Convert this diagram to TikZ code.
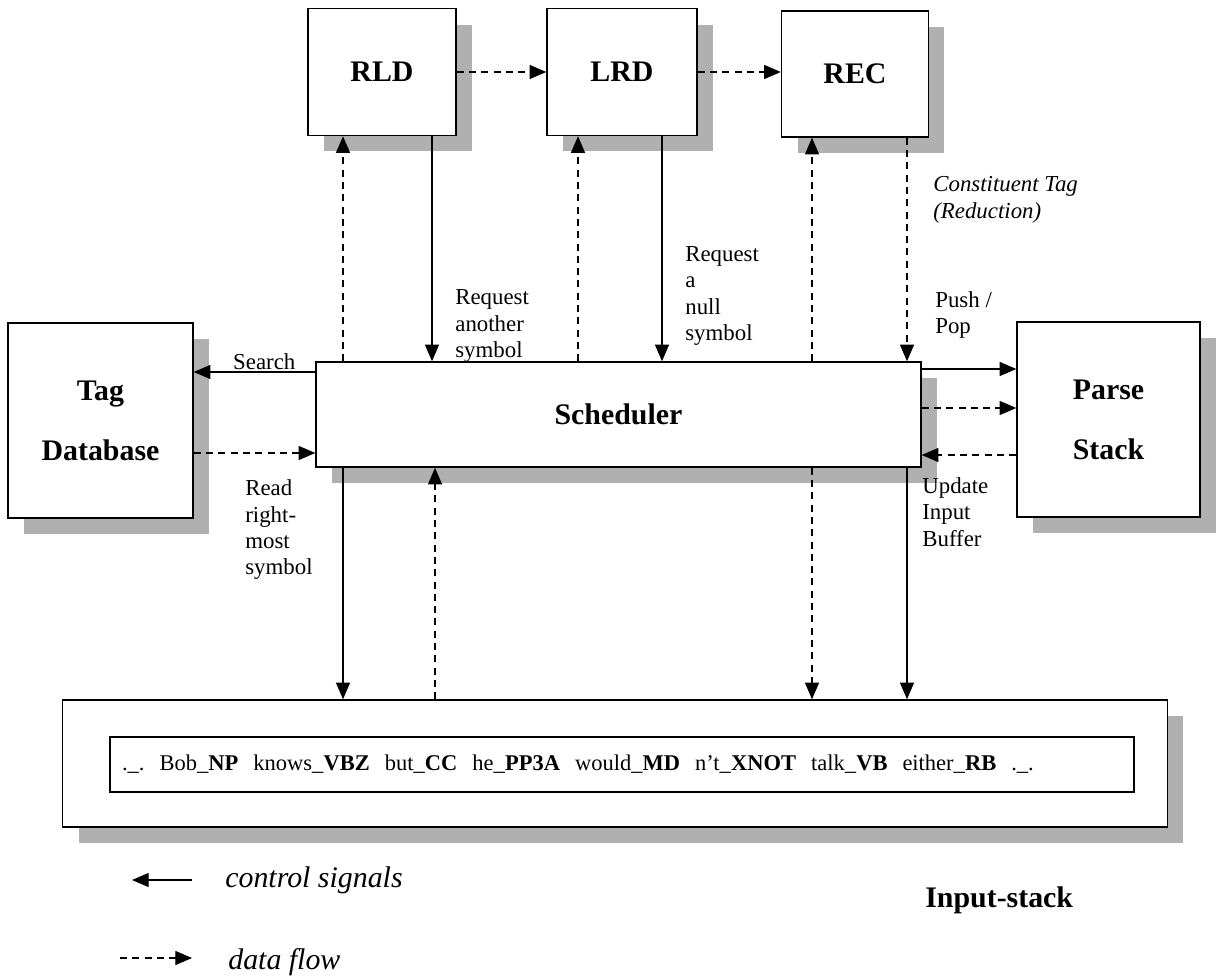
\documentclass[tikz,border=0pt]{standalone}
\usepackage{fontspec}
\setmainfont{Liberation Serif}
\usepackage{tikz}
\usetikzlibrary{arrows.meta,positioning,shadows}
\definecolor{shadowgray}{RGB}{176,176,176}

\begin{document}
\begin{tikzpicture}[
  x=0.02cm, y=-0.02cm,
  box/.style={draw, line width=0.85pt, fill=white, align=center, inner sep=0pt,
    font=\fontsize{17}{34}\selectfont\bfseries,
    drop shadow={shadow xshift=0.32cm, shadow yshift=-0.32cm, fill=shadowgray, opacity=1}},
  lbl/.style={font=\fontsize{13}{15}\selectfont, align=left, anchor=west, inner sep=0pt},
  ctrl/.style={-{Triangle[length=9.5pt,width=8pt]}, line width=0.7pt},
  data/.style={ctrl, dash pattern=on 4pt off 3pt},
]
\useasboundingbox (0,0) rectangle (1216,979);

\node[box, minimum width=2.96cm, minimum height=2.54cm] (RLD) at (382,72) {RLD};
\node[box, minimum width=3.0cm, minimum height=2.54cm] (LRD) at (622,72) {LRD};
\node[box, minimum width=2.94cm, minimum height=2.52cm] (REC) at (855,74) {REC};
\node[box, minimum width=12.1cm, minimum height=2.1cm] (sched) at (618.5,414.5) {Scheduler};
\node[box, minimum width=3.7cm, minimum height=3.9cm] (tagdb) at (100.5,420.5) {Tag\\Database};
\node[box, minimum width=3.66cm, minimum height=3.9cm] (parse) at (1108.5,419.5) {Parse\\Stack};
\node[box, minimum width=22.1cm, minimum height=2.54cm] (inbuf) at (615,763.5) {};
\node[draw, line width=0.85pt, minimum height=1.1cm, text width=20.0cm, inner xsep=0.24cm,
  align=left, font=\fontsize{12.8}{15}\selectfont] (tags) at (622,764.5)
  {.\_.\ \ Bob\_\textbf{NP}\ \ knows\_\textbf{VBZ}\ \ but\_\textbf{CC}\ \ he\_\textbf{PP3A}\ \ would\_\textbf{MD}\ \ n’t\_\textbf{XNOT}\ \ talk\_\textbf{VB}\ \ either\_\textbf{RB}\ \ .\_.};

\draw[data] (RLD.east |- 0,72) -- (LRD.west |- 0,72);
\draw[data] (LRD.east |- 0,72) -- (REC.west |- 0,72);

\draw[data] (sched.north -| 343,0) -- (RLD.south -| 343,0);
\draw[ctrl] (RLD.south -| 432,0) -- (sched.north -| 432,0);
\draw[data] (sched.north -| 578,0) -- (LRD.south -| 578,0);
\draw[ctrl] (LRD.south -| 662,0) -- (sched.north -| 662,0);
\draw[data] (sched.north -| 812,0) -- (REC.south -| 812,0);
\draw[data] (REC.south -| 907,0) -- (sched.north -| 907,0);

\draw[ctrl] (sched.west |- 0,372) -- node[above, pos=0.42, inner sep=1pt, font=\fontsize{13}{15}\selectfont] {Search} (tagdb.east |- 0,372);
\draw[data] (tagdb.east |- 0,453) -- (sched.west |- 0,453);
\draw[ctrl] (sched.east |- 0,369) -- (parse.west |- 0,369);
\draw[data] (sched.east |- 0,408) -- (parse.west |- 0,408);
\draw[data] (parse.west |- 0,455) -- (sched.east |- 0,455);

\draw[ctrl] (sched.south -| 343,0) -- (inbuf.north -| 343,0);
\draw[data] (inbuf.north -| 435,0) -- (sched.south -| 435,0);
\draw[data] (sched.south -| 812,0) -- (inbuf.north -| 812,0);
\draw[ctrl] (sched.south -| 907,0) -- (inbuf.north -| 907,0);

\node[lbl] (lreq1) at (455,326) {Request\\another\\symbol};
\node[lbl] (lreq2) at (685,296) {Request\\a\\null\\symbol};
\node[lbl, font=\fontsize{13}{15}\selectfont\itshape] (lcons) at (933,200) {Constituent Tag\\(Reduction)};
\node[lbl] (lpush) at (935,315) {Push /\\Pop};
\node[lbl] (lread) at (245,530) {Read\\right-\\most\\symbol};
\node[lbl] (lupd) at (922,512) {Update\\Input\\Buffer};

\coordinate (c1) at (132,880);
\coordinate (c2) at (192,880);
\draw[ctrl] (c2) -- (c1);
\node[lbl, font=\fontsize{17}{20}\selectfont\itshape] (lctrl) at (225,880) {control signals};
\coordinate (d1) at (120,958);
\coordinate (d2) at (192,958);
\draw[data] (d1) -- (d2);
\node[lbl, font=\fontsize{17}{20}\selectfont\itshape] (ldata) at (228,962) {data flow};
\node[lbl, font=\fontsize{17}{20}\selectfont\bfseries] (lstack) at (925,900) {Input-stack};
\end{tikzpicture}
\end{document}
